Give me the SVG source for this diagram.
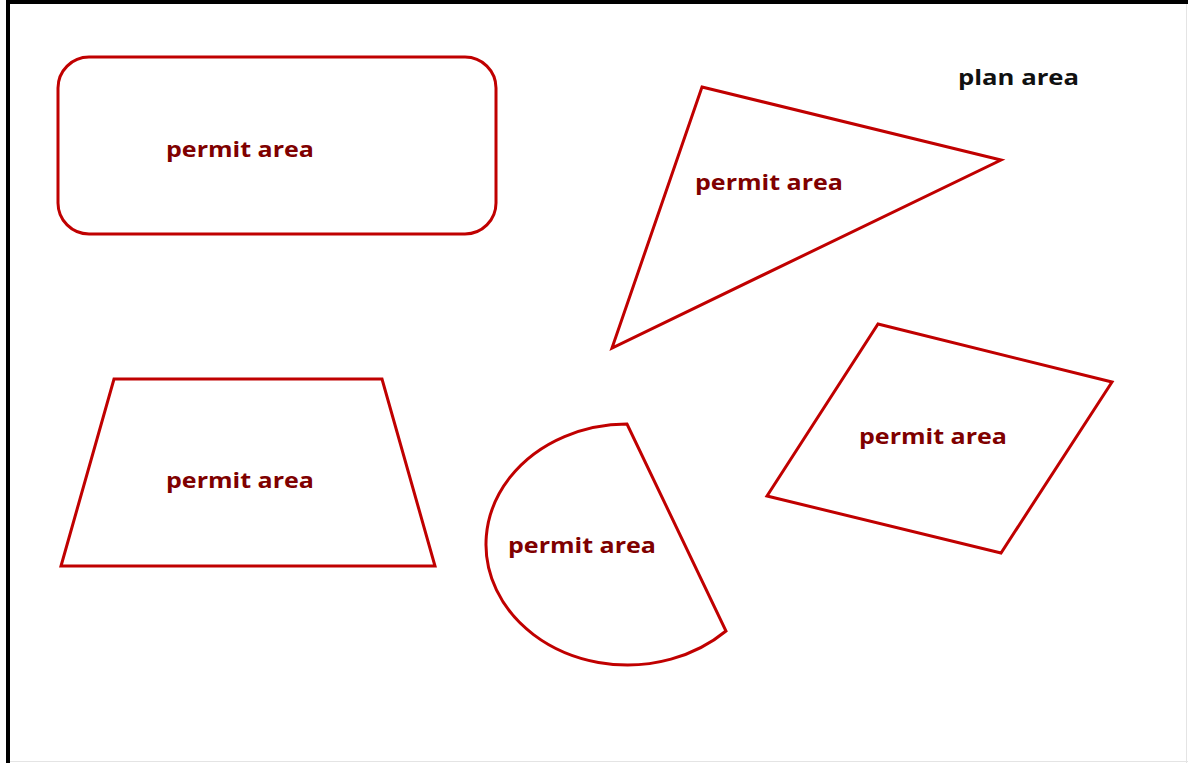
<svg xmlns="http://www.w3.org/2000/svg" width="1188" height="763" viewBox="0 0 1188 763">
<style>
.shape{fill:#ffffff;stroke:#c00000;stroke-width:3;stroke-linejoin:miter}
.lbl{font-family:"Open Sans","Liberation Sans",sans-serif;font-weight:bold;font-size:22px;fill:#7f0000}
.plan{font-family:"Open Sans","Liberation Sans",sans-serif;font-weight:bold;font-size:22px;fill:#111111}
</style>
<rect x="0" y="0" width="1188" height="763" fill="#ffffff"/>
<g id="frame">
<line x1="6" y1="2" x2="1188" y2="2" stroke="#000" stroke-width="4"/>
<line x1="8" y1="0" x2="8" y2="763" stroke="#000" stroke-width="4"/>
<line x1="1186.5" y1="4" x2="1186.5" y2="763" stroke="#e4e4e4" stroke-width="1"/>
<line x1="10" y1="761.5" x2="1188" y2="761.5" stroke="#e4e4e4" stroke-width="1"/>
</g>
<g id="plan-area"><text class="plan" x="958" y="85" textLength="121" lengthAdjust="spacingAndGlyphs">plan area</text></g>
<g id="permit-rect">
<rect class="shape" x="58" y="57" width="438" height="177" rx="31" ry="31"/>
<text class="lbl" x="166" y="157" textLength="148" lengthAdjust="spacingAndGlyphs">permit area</text>
</g>
<g id="permit-triangle">
<polygon class="shape" points="702,87 1001,160 612,348"/>
<text class="lbl" x="695" y="190" textLength="148" lengthAdjust="spacingAndGlyphs">permit area</text>
</g>
<g id="permit-trapezoid">
<polygon class="shape" points="114,379 382,379 435,566 61,566"/>
<text class="lbl" x="166" y="488" textLength="148" lengthAdjust="spacingAndGlyphs">permit area</text>
</g>
<g id="permit-segment">
<path class="shape" d="M627,424 A141.5,120.5 0 1,0 726,631 Z"/>
<text class="lbl" x="508" y="553" textLength="148" lengthAdjust="spacingAndGlyphs">permit area</text>
</g>
<g id="permit-rhombus">
<polygon class="shape" points="878,324 1112,382 1001,553 767,496"/>
<text class="lbl" x="859" y="444" textLength="148" lengthAdjust="spacingAndGlyphs">permit area</text>
</g>
<g id="connectors"/>
</svg>
